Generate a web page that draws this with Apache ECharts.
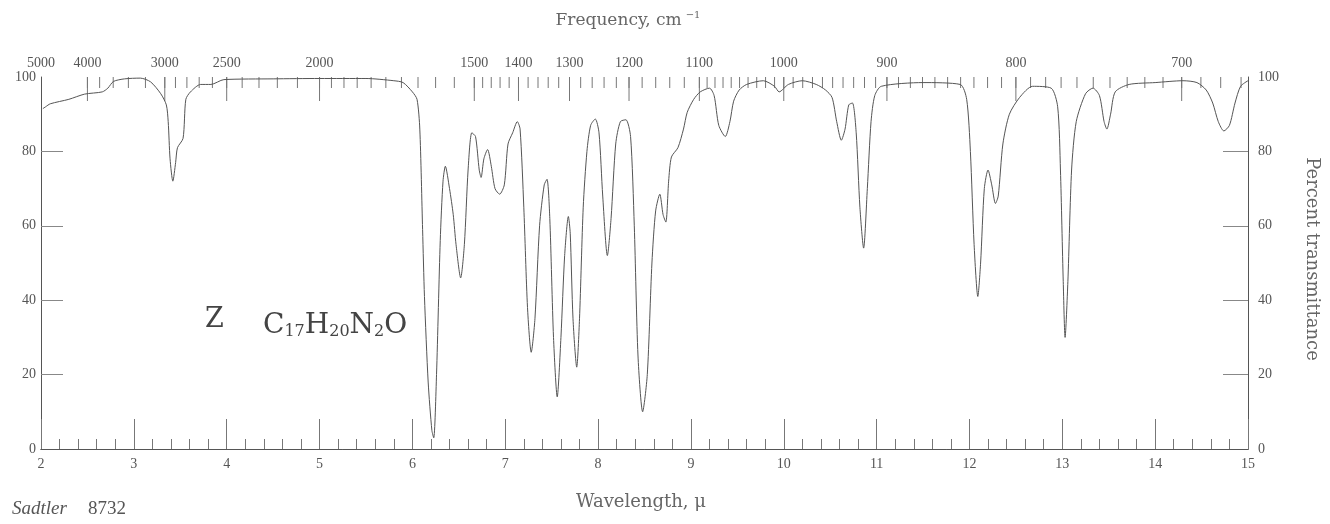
<!DOCTYPE html>
<html>
<head>
<meta charset="utf-8">
<script src="https://cdn.jsdelivr.net/npm/echarts@6/dist/echarts.min.js"></script>
<style>
html,body{margin:0;padding:0;background:#fff;}
#chart{width:1330px;height:524px;}
</style>
</head>
<body>
<div id="chart"></div>
<script>
// Wavelength (microns) of the traced points
const wavelength = [2.02,2.05,2.1,2.3,2.47,2.66,2.72,2.78,2.9,3.07,3.18,3.29,3.35,3.37,3.39,3.42,3.45,3.47,3.53,3.56,3.61,3.72,3.83,3.97,
  4.5,5.0,5.5,5.8,5.9,6.0,6.05,6.08,6.11,6.13,6.17,6.21,6.23,6.26,6.30,6.33,6.355,6.40,6.44,6.47,6.52,6.56,6.60,6.64,6.68,6.72,6.74,6.77,6.81,6.85,6.89,6.94,6.99,
  7.03,7.08,7.13,7.16,7.20,7.24,7.28,7.32,7.37,7.42,7.45,7.48,7.52,7.56,7.60,7.64,7.68,7.70,7.73,7.77,7.80,7.84,7.88,7.92,7.97,
  8.01,8.05,8.10,8.14,8.19,8.24,8.30,8.35,8.39,8.43,8.48,8.53,8.58,8.62,8.665,8.70,8.73,8.76,8.79,8.86,8.92,8.96,
  9.03,9.10,9.2,9.25,9.30,9.37,9.42,9.46,9.52,9.60,9.78,9.9,9.95,
  10.05,10.2,10.35,10.45,10.52,10.57,10.62,10.66,10.70,10.74,10.78,10.82,10.86,10.90,10.94,10.98,
  11.05,11.5,11.9,11.97,12.01,12.05,12.09,12.12,12.16,12.20,12.24,12.28,12.31,12.36,12.43,12.54,12.68,12.88,12.95,12.98,
  13.01,13.03,13.06,13.10,13.15,13.25,13.33,13.40,13.45,13.48,13.52,13.57,13.72,
  14.0,14.3,14.45,14.55,14.62,14.68,14.74,14.80,14.86,14.92,15.0];
// Percent transmittance at those wavelengths
const transmittance = [91.5,92,92.8,94,95.4,96,97,98.8,99.5,99.7,98.7,95.5,92.5,88,78,72,77,81,83.5,94,96,98,98,99.3,
  99.5,99.6,99.6,99,98.5,96,94,86,59,41,18,5,3,20,56,72,76,70,63,55,46,55,75,85,84,75,73,78,80.5,76,70,68.5,71,
  82,85,88,86,65,38,26,35,60,71,72.5,62,30,14,30,52,62.5,58,35,22,35,65,80,87,88.7,
  85,68,52,62,82,88,88.5,84,60,25,10,20,50,64,68.5,63,61,72,78.5,81,86,90.5,
  94,96,97,95,87,84,88,93.5,96.5,98,99,97.5,96,
  98,99,98,96.5,94.5,88,83,86,92.5,93,85,65,54,70,88,95,
  97.5,98.5,98,94,80,55,41,50,70,75,71,66,68,82,90,94.5,97.5,97,92,75,
  45,30,45,75,88,95.5,97,95,88,86,90,96,98,
  98.5,99,98.5,96.5,93,88,85.5,87,93,97.5,99];
// Axis tick labels
const wavelengthTicks = [2,3,4,5,6,7,8,9,10,11,12,13,14,15];
const frequencyLabels = [5000,4000,3000,2500,2000,1500,1400,1300,1200,1100,1000,900,800,700];
const percentTicks = [0,20,40,60,80,100];

// minor frequency tick positions (cm-1)
const freqMinor = [];
for (let f = 4000; f > 3000; f -= 200) freqMinor.push(f);
for (let f = 3000; f > 2000; f -= 100) freqMinor.push(f);
for (let f = 2000; f > 1500; f -= 50) freqMinor.push(f);
for (let f = 1500; f > 1100; f -= 20) freqMinor.push(f);
for (let f = 1100; f >= 670; f -= 10) freqMinor.push(f);

const toMicron = f => 10000 / f;
const FONT = '"Liberation Serif", "DejaVu Serif", serif';
const WIDE = '"DejaVu Serif", serif';
const TXT = '#555';
const LINE = '#555';

// top-edge tick marks drawn through the axis scale
function topTicks(len) {
  return function (params, api) {
    const p = api.coord([api.value(0), 100]);
    return {type: 'line', shape: {x1: p[0], y1: p[1], x2: p[0], y2: p[1] + len},
      style: {stroke: '#777', lineWidth: 1}, silent: true};
  };
}

const chart = echarts.init(document.getElementById('chart'));
chart.setOption({
  backgroundColor: '#fff',
  animation: false,
  grid: {left: 41, right: 82, top: 77, bottom: 75},
  xAxis: [
    {
      type: 'value', position: 'bottom', min: 2, max: 15, interval: 1,
      axisLine: {show: true, lineStyle: {color: LINE, width: 1}},
      axisTick: {show: true, inside: true, length: 30, lineStyle: {color: '#777'}},
      minorTick: {show: true, splitNumber: 5, length: 10, lineStyle: {color: '#777'}},
      axisLabel: {color: TXT, fontFamily: FONT, fontSize: 14, margin: 8,
        customValues: wavelengthTicks},
      splitLine: {show: false}
    },
    {
      type: 'value', position: 'top', min: 2, max: 15,
      axisLine: {show: true, lineStyle: {color: LINE, width: 1}},
      axisTick: {show: false},
      axisLabel: {color: TXT, fontFamily: FONT, fontSize: 14, margin: 7,
        customValues: frequencyLabels.map(toMicron),
        formatter: v => String(Math.round(10000 / v))},
      splitLine: {show: false}
    }
  ],
  yAxis: [
    {
      type: 'value', position: 'left', min: 0, max: 100, interval: 20,
      axisLine: {show: true, lineStyle: {color: LINE, width: 1}},
      axisTick: {show: true, inside: true, length: 22, lineStyle: {color: '#888'},
        customValues: [20, 40, 60, 80]},
      axisLabel: {color: TXT, fontFamily: FONT, fontSize: 14, margin: 5,
        customValues: percentTicks},
      splitLine: {show: false}
    },
    {
      type: 'value', position: 'right', min: 0, max: 100, interval: 20,
      axisLine: {show: true, lineStyle: {color: LINE, width: 1}},
      axisTick: {show: true, inside: true, length: 25, lineStyle: {color: '#888'},
        customValues: [20, 40, 60, 80]},
      axisLabel: {color: TXT, fontFamily: FONT, fontSize: 14, margin: 10,
        customValues: percentTicks},
      splitLine: {show: false}
    }
  ],
  series: [
    {
      type: 'line',
      xAxisIndex: 0, yAxisIndex: 0,
      data: wavelength.map((w, i) => [w, transmittance[i]]),
      showSymbol: false,
      smooth: 0.25,
      lineStyle: {color: '#555', width: 1},
      silent: true,
      z: 3
    },
    {
      type: 'custom', xAxisIndex: 0, yAxisIndex: 0, silent: true, clip: false,
      data: frequencyLabels.slice(1).map(f => [toMicron(f)]),
      renderItem: topTicks(24)
    },
    {
      type: 'custom', xAxisIndex: 0, yAxisIndex: 0, silent: true, clip: false,
      data: freqMinor.map(f => [toMicron(f)]),
      renderItem: topTicks(11)
    }
  ],
  graphic: [
    {type: 'text', x: 628, y: 21, style: {
      text: 'Frequency, cm{sup|−1}', fill: '#666', font: '17px ' + WIDE, align: 'center', verticalAlign: 'middle',
      rich: {sup: {fontSize: 10, verticalAlign: 'top', padding: [0, 0, 11, 4], fill: '#666', fontFamily: WIDE}}
    }},
    {type: 'text', x: 641, y: 502, style: {
      text: 'Wavelength, μ', fill: '#666', font: '18px ' + WIDE, align: 'center', verticalAlign: 'middle'}},
    {type: 'text', x: 12, y: 509, style: {
      text: '{i|Sadtler}', fill: TXT, font: '19px ' + FONT, verticalAlign: 'middle',
      rich: {i: {fontStyle: 'italic', fontSize: 19, fontFamily: FONT, fill: TXT}}}},
    {type: 'text', x: 88, y: 509, style: {
      text: '8732', fill: TXT, font: '19px ' + FONT, verticalAlign: 'middle'}},
    {type: 'text', x: 1312, y: 259, rotation: -Math.PI / 2, style: {
      text: 'Percent transmittance', fill: '#666', font: '18px ' + WIDE, align: 'center', verticalAlign: 'middle'}},
    {type: 'text', x: 205, y: 333, style: {
      text: 'Z', fill: '#444', font: '27px ' + WIDE, verticalAlign: 'bottom'}},
    {type: 'text', x: 263, y: 340, style: {
      text: 'C{s|17}H{s|20}N{s|2}O', fill: '#444', font: '28px ' + WIDE, verticalAlign: 'bottom',
      rich: {s: {fontSize: 16, fontFamily: WIDE, fill: '#444', verticalAlign: 'bottom', padding: [9, 0, 0, 0]}}}}
  ]
});
</script>
</body>
</html>
